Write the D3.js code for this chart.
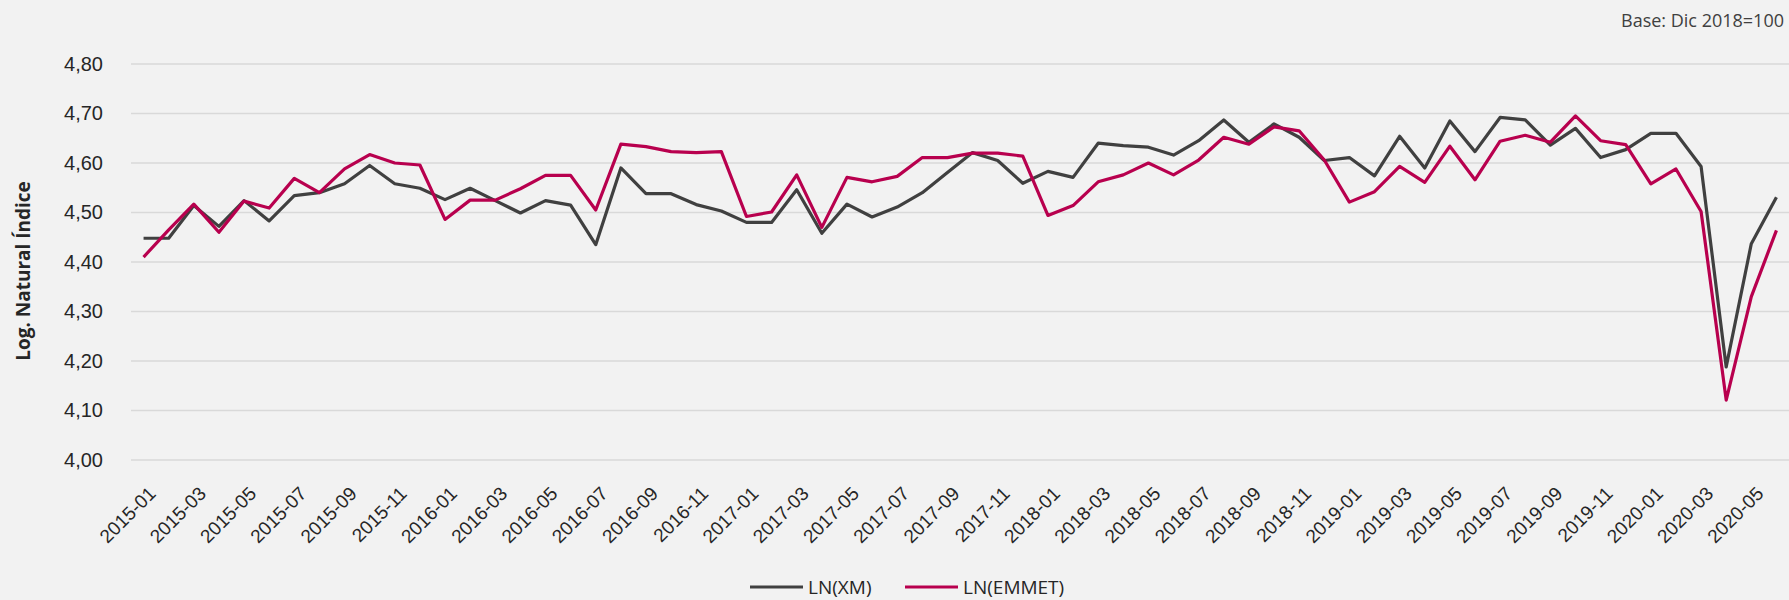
<!DOCTYPE html>
<html>
<head>
<meta charset="utf-8">
<title>LN(XM) vs LN(EMMET)</title>
<script src="https://cdn.jsdelivr.net/npm/d3@7"></script>
<style>
  html, body { margin: 0; padding: 0; background: #f2f2f2; }
  svg { display: block; font-family: "Segoe UI", "Open Sans", sans-serif; }
</style>
</head>
<body>
<div id="chart"></div>
<script>
// monthly categories 2015-01 .. 2020-06
const months = [];
for (let y = 2015; y <= 2020; y++) {
  for (let m = 1; m <= 12; m++) {
    if (y === 2020 && m > 6) break;
    months.push(y + "-" + String(m).padStart(2, "0"));
  }
}

const ln_xm = [
  4.448, 4.448, 4.514, 4.472, 4.524, 4.483, 4.534, 4.540, 4.558, 4.595, 4.558, 4.549,
  4.526, 4.549, 4.524, 4.499, 4.524, 4.515, 4.435, 4.590, 4.538, 4.538, 4.516, 4.503,
  4.480, 4.480, 4.546, 4.458, 4.517, 4.491, 4.511, 4.540, 4.581, 4.621, 4.605, 4.559,
  4.583, 4.571, 4.640, 4.635, 4.632, 4.616, 4.645, 4.687, 4.642, 4.679, 4.652, 4.605,
  4.611, 4.574, 4.654, 4.590, 4.685, 4.623, 4.692, 4.687, 4.636, 4.670, 4.611, 4.627,
  4.660, 4.660, 4.593, 4.188, 4.437, 4.531
];

const ln_emmet = [
  4.410, 4.465, 4.517, 4.460, 4.523, 4.509, 4.569, 4.540, 4.588, 4.617, 4.600, 4.596,
  4.486, 4.525, 4.525, 4.548, 4.575, 4.575, 4.505, 4.638, 4.633, 4.623, 4.621, 4.623,
  4.492, 4.501, 4.576, 4.470, 4.571, 4.562, 4.573, 4.611, 4.611, 4.620, 4.620, 4.614,
  4.494, 4.514, 4.562, 4.576, 4.600, 4.576, 4.606, 4.652, 4.638, 4.673, 4.665, 4.606,
  4.521, 4.542, 4.593, 4.561, 4.634, 4.566, 4.644, 4.656, 4.642, 4.695, 4.645, 4.637,
  4.558, 4.588, 4.502, 4.121, 4.330, 4.464
];

const y_ticks = [4.0, 4.1, 4.2, 4.3, 4.4, 4.5, 4.6, 4.7, 4.8];

const series = [
  { name: "LN(XM)", values: ln_xm, color: "#404040" },
  { name: "LN(EMMET)", values: ln_emmet, color: "#b8004e" }
];

const width = 1789, height = 600;
const plot = { left: 131, right: 1789, top: 64, bottom: 460 };

const svg = d3.select("#chart")
  .append("svg")
  .attr("width", width)
  .attr("height", height);

// categories sit between tick marks, like the original
const x = d3.scalePoint()
  .domain(months)
  .range([plot.left, plot.right])
  .padding(0.5);

const y = d3.scaleLinear()
  .domain([4.0, 4.8])
  .range([plot.bottom, plot.top]);

const fmt = d => d3.format(".2f")(d).replace(".", ",");

// gridlines
svg.append("g")
  .selectAll("line")
  .data(y_ticks)
  .join("line")
    .attr("x1", plot.left)
    .attr("x2", plot.right)
    .attr("y1", d => y(d))
    .attr("y2", d => y(d))
    .attr("stroke", "#d9d9d9")
    .attr("stroke-width", 1.5);

// y axis labels
const yAxis = g => g
  .attr("transform", `translate(${plot.left},0)`)
  .call(d3.axisLeft(y).tickValues(y_ticks).tickFormat(fmt).tickSize(0).tickPadding(28))
  .call(g => g.select(".domain").remove())
  .call(g => g.selectAll("text")
    .attr("fill", "#262626")
    .style("font-size", "20px"));

svg.append("g").call(yAxis);

// x axis labels (every other month)
const xAxis = g => g
  .attr("transform", `translate(0,${plot.bottom})`)
  .call(d3.axisBottom(x).tickValues(months.filter((d, i) => i % 2 === 0)).tickSize(0))
  .call(g => g.select(".domain").remove())
  .call(g => g.selectAll("text")
    .attr("fill", "#262626")
    .style("font-size", "19px")
    .attr("text-anchor", "end")
    .attr("dy", "0.35em")
    .attr("transform", "translate(6,28) rotate(-45)"));

svg.append("g").call(xAxis);

// y axis title
svg.append("text")
  .attr("transform", "translate(30,271) rotate(-90)")
  .attr("text-anchor", "middle")
  .attr("fill", "#262626")
  .style("font-size", "19px")
  .style("font-weight", "bold")
  .text("Log. Natural Índice");

// note top right
svg.append("text")
  .attr("x", 1784)
  .attr("y", 27)
  .attr("text-anchor", "end")
  .attr("fill", "#404040")
  .style("font-size", "18px")
  .text("Base: Dic 2018=100");

// lines
const line = d3.line()
  .x((d, i) => x(months[i]))
  .y(d => y(d));

svg.append("g")
  .selectAll("path")
  .data(series)
  .join("path")
    .attr("fill", "none")
    .attr("stroke", d => d.color)
    .attr("stroke-width", 3.2)
    .attr("stroke-linejoin", "round")
    .attr("d", d => line(d.values));

// legend
const legend_items = [
  { x: 750, s: series[0] },
  { x: 905, s: series[1] }
];

const lg = svg.append("g")
  .selectAll("g")
  .data(legend_items)
  .join("g")
    .attr("transform", d => `translate(${d.x},587)`);

lg.append("line")
  .attr("x1", 0)
  .attr("x2", 53)
  .attr("stroke", d => d.s.color)
  .attr("stroke-width", 3.2);

lg.append("text")
  .attr("x", 58)
  .attr("dy", "0.35em")
  .attr("fill", "#262626")
  .style("font-size", "19px")
  .text(d => d.s.name);
</script>
</body>
</html>
